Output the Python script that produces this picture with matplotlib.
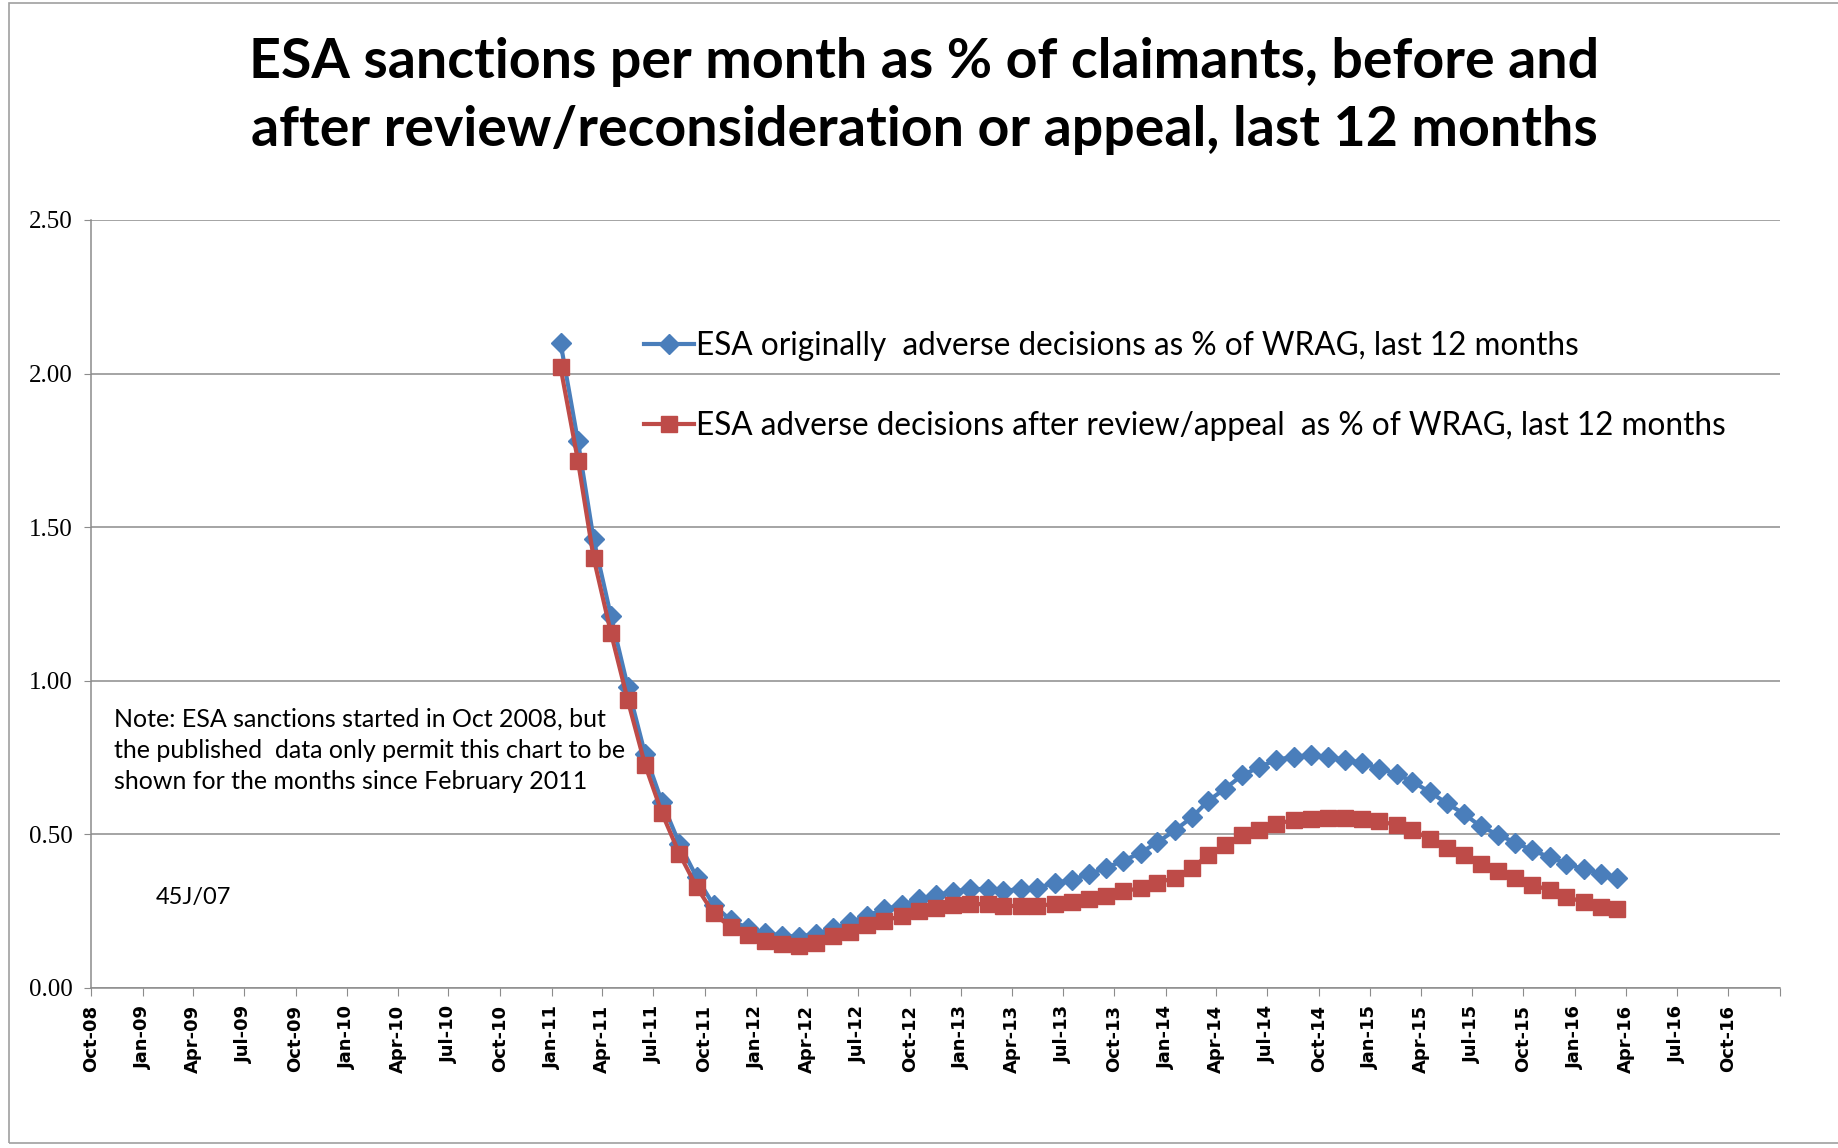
import matplotlib
matplotlib.use("Agg")
import matplotlib.pyplot as plt
import matplotlib.dates as mdates
from matplotlib.patches import Rectangle
import pandas as pd

# monthly series, Jan 2011 .. Mar 2016 (63 months)
months = pd.date_range("2011-01-01", "2016-03-01", freq="MS") + pd.Timedelta(days=16)

original_pct = [
    2.10, 1.78, 1.46, 1.21, 0.98, 0.76, 0.605, 0.47, 0.36, 0.27,
    0.22, 0.195, 0.178, 0.17, 0.167, 0.176, 0.194, 0.214, 0.235, 0.257,
    0.27, 0.289, 0.302, 0.313, 0.322, 0.322, 0.316, 0.322, 0.327, 0.341,
    0.352, 0.37, 0.392, 0.414, 0.44, 0.474, 0.513, 0.556, 0.608, 0.649,
    0.692, 0.719, 0.743, 0.752, 0.759, 0.752, 0.743, 0.733, 0.714, 0.697,
    0.672, 0.638, 0.602, 0.567, 0.526, 0.499, 0.473, 0.448, 0.426, 0.405,
    0.386, 0.372, 0.359,
]
after_review_pct = [
    2.02, 1.716, 1.40, 1.155, 0.936, 0.725, 0.569, 0.437, 0.328, 0.243,
    0.197, 0.172, 0.153, 0.142, 0.137, 0.147, 0.168, 0.181, 0.205, 0.219,
    0.235, 0.252, 0.259, 0.27, 0.273, 0.273, 0.268, 0.266, 0.268, 0.273,
    0.279, 0.289, 0.298, 0.316, 0.324, 0.343, 0.358, 0.39, 0.432, 0.464,
    0.497, 0.515, 0.535, 0.546, 0.551, 0.553, 0.553, 0.551, 0.542, 0.531,
    0.513, 0.486, 0.456, 0.432, 0.405, 0.38, 0.358, 0.336, 0.318, 0.296,
    0.28, 0.264, 0.256,
]

series_labels = [
    "ESA originally  adverse decisions as % of WRAG, last 12 months",
    "ESA adverse decisions after review/appeal  as % of WRAG, last 12 months",
]
title = ("ESA sanctions per month as % of claimants, before and\n"
         "after review/reconsideration or appeal, last 12 months")
note = ("Note: ESA sanctions started in Oct 2008, but\n"
        "the published  data only permit this chart to be\n"
        "shown for the months since February 2011")
code = "45J/07"

x_start, x_end = "2008-10-01", "2017-01-01"
y_ticks = [0.0, 0.5, 1.0, 1.5, 2.0, 2.5]

blue = "#4a7ebb"
red = "#be4b48"
grey = "#8c8c8c"

fig = plt.figure(figsize=(18.38, 11.48), dpi=100)
fig.patches.append(Rectangle((0.005, 0.004), 1.2, 0.993, transform=fig.transFigure,
                             fill=False, edgecolor="#a0a0a0", linewidth=1.2))
ax = fig.add_axes([0.0495, 0.1394, 0.9189, 0.669])

ax.plot(months, original_pct, color=blue, lw=3, marker="D", ms=10,
        mec=blue, mfc=blue, label=series_labels[0], zorder=3)
ax.plot(months, after_review_pct, color=red, lw=3, marker="s", ms=12,
        mec=red, mfc=red, label=series_labels[1], zorder=4)

ax.set_xlim(pd.Timestamp(x_start), pd.Timestamp(x_end))
ax.set_ylim(0, 2.5)
ax.set_yticks(y_ticks)
ax.set_yticklabels([f"{v:.2f}" for v in y_ticks], family="Liberation Serif", fontsize=18)

xt = pd.date_range(x_start, x_end, freq="3MS")
ax.set_xticks(xt)
ax.set_xticklabels([d.strftime("%b-%y") if d < pd.Timestamp(x_end) else "" for d in xt],
                   rotation=90, family="DejaVu Sans", fontsize=13, fontweight="bold")

ax.grid(axis="y", color=grey, lw=1.1)
ax.set_axisbelow(True)
for s in ("top", "right"):
    ax.spines[s].set_visible(False)
for s in ("left", "bottom"):
    ax.spines[s].set_color(grey)
    ax.spines[s].set_linewidth(1.1)
ax.tick_params(axis="x", direction="out", length=6, color=grey, pad=6)
ax.tick_params(axis="y", direction="out", length=5, color=grey, pad=8)

leg = ax.legend(loc="upper left", bbox_to_anchor=(0.320, 0.872), frameon=False,
                prop={"family": "Lato", "size": 22.7}, handlelength=1.6,
                labelspacing=1.58, handletextpad=0.05, borderaxespad=0)

fig.text(0.503, 0.968, title, ha="center", va="top", family="Lato",
         fontweight="bold", fontsize=40, linespacing=1.45)
fig.text(0.062, 0.384, note, ha="left", va="top", family="Lato",
         fontsize=18, linespacing=1.45)
fig.text(0.085, 0.218, code, ha="left", va="center", family="Lato", fontsize=17)

fig.savefig("out.png", dpi=100)
